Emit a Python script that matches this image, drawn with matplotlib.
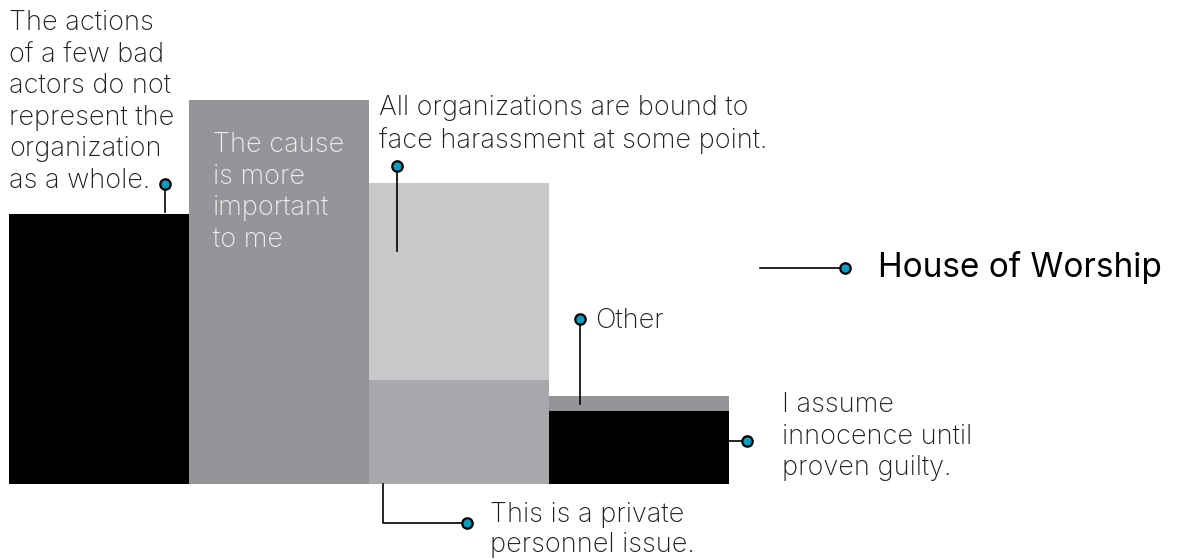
import matplotlib
matplotlib.use("Agg")
import matplotlib.pyplot as plt

# ---- data (percent of respondents) ----
columns = ["col1", "col2", "col3", "col4"]
bottom_values = [26, 37, 10, 7]       # lower segment of each column
top_values = [0, 0, 19, 1.5]          # upper segment of each column
bottom_colors = ["#000000", "#939598", "#a7a9ac", "#000000"]
top_colors = ["#000000", "#939598", "#c7c8ca", "#939598"]
labels = [
    "The actions\nof a few bad\nactors do not\nrepresent the\norganization\nas a whole.",
    "The cause\nis more\nimportant\nto me",
    "All organizations are bound to\nface harassment at some point.",
    "This is a private\npersonnel issue.",
    "Other",
    "I assume\ninnocence until\nproven guilty.",
]
legend_label = "House of Worship"

W, H = 1178, 559
fig = plt.figure(figsize=(W / 100, H / 100), dpi=100)
ax = fig.add_axes([0, 0, 1, 1])
ax.axis("off")

pxu = 180.0
ypx = 384 / 37.0
ax.set_xlim(-0.5 - 9 / pxu, -0.5 - 9 / pxu + W / pxu)
ax.set_ylim(-(H - 484) / ypx, 484 / ypx)

xs = list(range(len(columns)))
ax.bar(xs, bottom_values, width=1.0, color=bottom_colors, linewidth=0)
ax.bar(xs, top_values, bottom=bottom_values, width=1.0, color=top_colors, linewidth=0)

FONT = "Inter"
TXT = "#231f20"
FS = 19.5

def P(x, y):
    return (x / W, 1 - y / H)

tr = fig.transFigure
kw = dict(fontfamily=FONT, fontweight="light", fontsize=FS, color=TXT,
          linespacing=1.28, transform=tr, ha="left", va="baseline")

# va="baseline" anchors the last line's baseline
fig.text(*P(9, 188), labels[0], **kw)
kw2 = dict(kw); kw2["color"] = "#efefef"
fig.text(*P(213, 247), labels[1], **kw2)
fig.text(*P(379, 148), labels[2], **kw)
kw3 = dict(kw); kw3["linespacing"] = 1.2
fig.text(*P(490, 552), labels[3], **kw3)
fig.text(*P(595, 328), labels[4], **kw)
fig.text(*P(782, 475), labels[5], **kw)
fig.text(*P(878, 277), legend_label, ha="left", va="baseline", fontfamily=FONT,
         fontweight="normal", fontsize=24, color="#000000", transform=tr)

LW = 1.2
BLUE = "#0f9bbf"

def conn(pts, dot):
    xs_ = [P(*p)[0] for p in pts]
    ys_ = [P(*p)[1] for p in pts]
    fig.add_artist(plt.Line2D(xs_, ys_, color="black", lw=LW, transform=tr))
    fig.add_artist(plt.Line2D([P(*dot)[0]], [P(*dot)[1]], marker="o", markersize=7.5,
                              markerfacecolor=BLUE, markeredgecolor="black",
                              markeredgewidth=1.6, transform=tr))

conn([(165, 184), (165, 212)], (165, 184))
conn([(397, 166), (397, 251)], (397, 166))
conn([(580, 319), (580, 404)], (580, 319))
conn([(729, 441), (747, 441)], (747, 441))
conn([(383, 484), (383, 523), (467, 523)], (467, 523))
conn([(760, 268), (845, 268)], (845, 268))

fig.savefig("out.png", dpi=100)
